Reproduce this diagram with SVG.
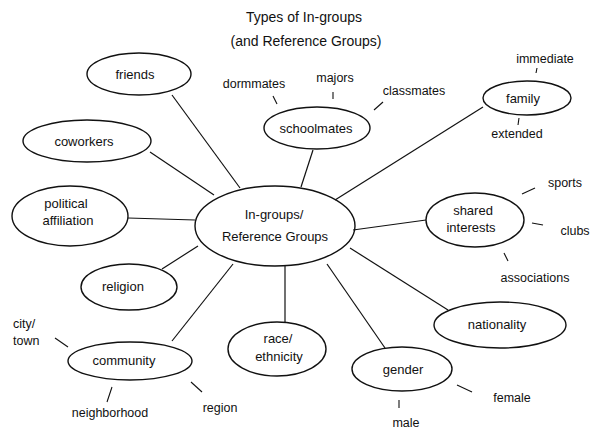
<svg xmlns="http://www.w3.org/2000/svg" width="594" height="429" viewBox="0 0 594 429">
<style>
  .n { fill: none; stroke: #111; stroke-width: 1.4; }
  .c line { stroke: #111; stroke-width: 1.2; }
  .t line { stroke: #111; stroke-width: 1.1; }
  text { font-family: "Liberation Sans", "DejaVu Sans", sans-serif; font-size: 13px; fill: #111; text-anchor: middle; }
  .s { font-size: 12.5px; }
  .title { font-size: 14px; }
</style>
<rect width="594" height="429" fill="#fff"/>
<g id="title">
  <text class="title" x="304" y="22">Types of In-groups</text>
  <text class="title" x="306" y="46">(and Reference Groups)</text>
</g>
<g id="connectors" class="c">
  <line x1="172" y1="95" x2="240" y2="188"/>
  <line x1="150" y1="152" x2="214" y2="195"/>
  <line x1="128" y1="218" x2="195" y2="220"/>
  <line x1="162" y1="269" x2="198" y2="246"/>
  <line x1="172" y1="341" x2="233" y2="264"/>
  <line x1="285" y1="266" x2="285" y2="322"/>
  <line x1="327" y1="264" x2="385" y2="348"/>
  <line x1="350" y1="248" x2="448" y2="310"/>
  <line x1="353" y1="230" x2="426" y2="220"/>
  <line x1="483" y1="107" x2="335" y2="200"/>
  <line x1="313" y1="150" x2="301" y2="187"/>
</g>
<g id="center">
  <ellipse class="n" cx="275" cy="226" rx="80" ry="40"/>
  <text x="274" y="219">In-groups/</text>
  <text x="275" y="241">Reference Groups</text>
</g>
<g id="friends">
  <ellipse class="n" cx="139" cy="74" rx="52" ry="21"/>
  <text x="135" y="79">friends</text>
</g>
<g id="coworkers">
  <ellipse class="n" cx="87" cy="141" rx="64" ry="21"/>
  <text x="84" y="146">coworkers</text>
</g>
<g id="schoolmates">
  <ellipse class="n" cx="317" cy="128" rx="53" ry="21"/>
  <text x="316" y="133">schoolmates</text>
  <text class="s" x="254" y="88">dormmates</text>
  <text class="s" x="335" y="82">majors</text>
  <text class="s" x="414" y="95">classmates</text>
  <g class="t">
    <line x1="273" y1="96" x2="277" y2="104"/>
    <line x1="333" y1="92" x2="333" y2="99"/>
    <line x1="374" y1="110" x2="383" y2="102"/>
  </g>
</g>
<g id="family">
  <ellipse class="n" cx="527" cy="98" rx="44" ry="17"/>
  <text x="523" y="103">family</text>
  <text class="s" x="545" y="63">immediate</text>
  <text class="s" x="517" y="138">extended</text>
  <g class="t">
    <line x1="537" y1="68" x2="536" y2="73"/>
    <line x1="519" y1="118" x2="518" y2="125"/>
  </g>
</g>
<g id="political">
  <ellipse class="n" cx="70" cy="216" rx="58" ry="30"/>
  <text x="66" y="208">political</text>
  <text x="68" y="225">affiliation</text>
</g>
<g id="religion">
  <ellipse class="n" cx="129" cy="287" rx="48" ry="23"/>
  <text x="123" y="291">religion</text>
</g>
<g id="shared">
  <ellipse class="n" cx="475" cy="220" rx="49" ry="27"/>
  <text x="473" y="215">shared</text>
  <text x="471" y="232">interests</text>
  <text class="s" x="565" y="187">sports</text>
  <text class="s" x="575" y="235">clubs</text>
  <text class="s" x="535" y="282">associations</text>
  <g class="t">
    <line x1="522" y1="194" x2="535" y2="188"/>
    <line x1="532" y1="223" x2="543" y2="225"/>
    <line x1="504" y1="253" x2="508" y2="261"/>
  </g>
</g>
<g id="nationality">
  <ellipse class="n" cx="500" cy="325" rx="66" ry="23"/>
  <text x="497" y="329">nationality</text>
</g>
<g id="gender">
  <ellipse class="n" cx="402" cy="369" rx="50" ry="22"/>
  <text x="403" y="374">gender</text>
  <text class="s" x="512" y="402">female</text>
  <text class="s" x="406" y="427">male</text>
  <g class="t">
    <line x1="457" y1="385" x2="472" y2="392"/>
    <line x1="399" y1="400" x2="399" y2="408"/>
  </g>
</g>
<g id="race">
  <ellipse class="n" cx="277" cy="349" rx="49" ry="27"/>
  <text x="278" y="343">race/</text>
  <text x="279" y="361">ethnicity</text>
</g>
<g id="community">
  <ellipse class="n" cx="130" cy="361" rx="62" ry="19"/>
  <text x="124" y="365">community</text>
  <text class="s" x="13" y="328" style="text-anchor:start">city/</text>
  <text class="s" x="13" y="345" style="text-anchor:start">town</text>
  <text class="s" x="110" y="417">neighborhood</text>
  <text class="s" x="220" y="412">region</text>
  <g class="t">
    <line x1="55" y1="338" x2="68" y2="347"/>
    <line x1="107" y1="402" x2="112" y2="387"/>
    <line x1="191" y1="382" x2="202" y2="392"/>
  </g>
</g>
</svg>
